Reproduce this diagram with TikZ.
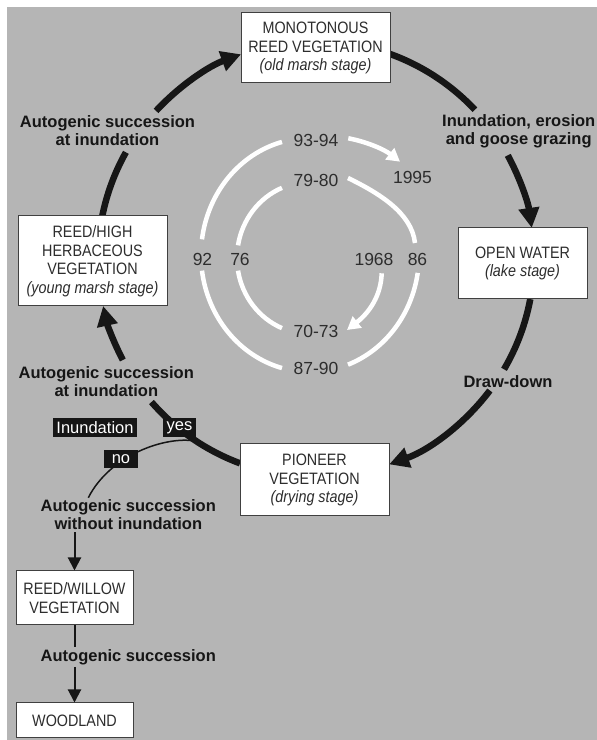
\documentclass[tikz,border=0pt]{standalone}
\usepackage{fontspec}
\setmainfont{Liberation Sans}
\newfontfamily\condfont{Liberation Sans}[FakeStretch=0.87]
\usetikzlibrary{arrows.meta,calc}
\definecolor{bggray}{RGB}{181,181,181}
\definecolor{ink}{RGB}{22,22,22}
\definecolor{boxtext}{RGB}{45,45,45}
\begin{document}
\begin{tikzpicture}[x=1pt,y=1pt,
 stagebox/.style={draw=black!75, line width=1pt, fill=white, align=center, inner sep=0pt, text=boxtext, font=\condfont\fontsize{16.5}{18.5}\selectfont},
 blabel/.style={align=center, font=\bfseries\fontsize{16.5}{18}\selectfont, text=ink, inner sep=2pt},
 tag/.style={fill=ink, text=white, inner sep=0pt, font=\fontsize{16.5}{18}\selectfont},
 yr/.style={font=\fontsize{17.5}{19}\selectfont, text=boxtext, inner sep=1pt},
 cycplain/.style={line width=6.5pt, draw=ink},
 cyc/.style={cycplain, -{Triangle[length=20pt,width=20pt]}},
 wline/.style={line width=4.5pt, draw=white},
 warrow/.style={wline, -{Triangle[length=13pt,width=14pt]}},
 thinline/.style={line width=2pt, draw=ink},
 thinarrow/.style={thinline, -{Triangle[length=13pt,width=13pt]}},
]
\useasboundingbox (0,0) rectangle (597,740);
\fill[bggray] (7,0) rectangle (597,733);

% main cycle (thick black arcs)
\coordinate (C) at (316,481);
\draw[cycplain] ($(C)+(70.3:218)$) arc[start angle=70.3,end angle=43.2,radius=218];
\draw[cyc] ($(C)+(28.4:218)$) arc[start angle=28.4,end angle=8.2,radius=218];
\draw[cycplain] ($(C)+(-10.6:218)$) arc[start angle=-10.6,end angle=-30.4,radius=218];
\draw[cyc] ($(C)+(-37.1:218)$) arc[start angle=-37.1,end angle=-70.4,radius=218];
\draw[cycplain] ($(C)+(-110.4:218)$) arc[start angle=-110.4,end angle=-139,radius=218];
\draw[cyc] ($(C)+(-152.4:218)$) arc[start angle=-152.4,end angle=-167.55,radius=218];
\draw[cycplain] ($(C)+(168.6:218)$) arc[start angle=168.6,end angle=150.7,radius=218];
\draw[cyc] ($(C)+(137.2:218)$) arc[start angle=137.2,end angle=110.1,radius=218];

% white spiral of years
\coordinate (O) at (310,485);
\coordinate (I) at (310,482);
\draw[warrow] (381.7,466.7) .. controls (381,445) and (370,428) .. (347,410);
\draw[wline] ($(I)+(-112.6:73 and 76)$) arc[start angle=-112.6,end angle=-170.4,x radius=73,y radius=76];
\draw[wline] ($(I)+(170.4:73 and 76)$) arc[start angle=170.4,end angle=112.6,x radius=73,y radius=76];
\draw[wline] (348,562) .. controls (379.5,546.6) and (411.6,527) .. (415,497);
\draw[wline] ($(O)+(-8.8:109 and 117)$) arc[start angle=-8.8,end angle=-69.6,x radius=109,y radius=117];
\draw[wline] ($(O)+(-104.9:109 and 117)$) arc[start angle=-104.9,end angle=-172.3,x radius=109,y radius=117];
\draw[wline] ($(O)+(172.3:109 and 117)$) arc[start angle=172.3,end angle=104.9,x radius=109,y radius=117];
\draw[warrow] (348.3,601.7) .. controls (368,598) and (385,590) .. (400,578.3);

% year labels
\node[yr] (y9394) at (316,600) {93-94};
\node[yr] (y7980) at (316,560) {79-80};
\node[yr] (y1995) at (412.5,562.5) {1995};
\node[yr] (y92) at (202.5,481) {92};
\node[yr] (y76) at (240,481) {76};
\node[yr] (y1968) at (374,481) {1968};
\node[yr] (y86) at (417.5,481) {86};
\node[yr] (y7073) at (316,409) {70-73};
\node[yr] (y8790) at (316,372) {87-90};

% stage boxes
\node[stagebox, minimum width=149, minimum height=70] (top) at (315.5,692) {MONOTONOUS\\REED VEGETATION\\\itshape (old marsh stage)};
\node[stagebox, minimum width=129, minimum height=71] (ow) at (522.5,476.5) {OPEN WATER\\\itshape (lake stage)};
\node[stagebox, minimum width=149, minimum height=90] (rh) at (92.5,479) {REED/HIGH\\HERBACEOUS\\VEGETATION\\\itshape (young marsh stage)};
\node[stagebox, minimum width=149, minimum height=72] (pio) at (314.5,260) {PIONEER\\VEGETATION\\\itshape (drying stage)};
\node[stagebox, minimum width=117, minimum height=54] (rw) at (74.5,142) {REED/WILLOW\\VEGETATION};
\node[stagebox, minimum width=117, minimum height=35] (wood) at (74.5,19.5) {WOODLAND};

% labels
\node[blabel] (labUL) at (107.5,609) {Autogenic succession\\at inundation};
\node[blabel] (labUR) at (518.7,608.5) {Inundation, erosion\\and goose grazing};
\node[blabel] (labDD) at (508,358.5) {Draw-down};
\node[blabel] (labLL) at (106.3,358) {Autogenic succession\\at inundation};
\node[blabel] (labWO) at (128.3,225) {Autogenic succession\\without inundation};
\node[blabel] (labAS) at (128.3,83) {Autogenic succession};

% branch without inundation
\draw[line width=1.5pt, draw=ink] (195,299) .. controls (165,304) and (110,285) .. ([xshift=-40pt]labWO.north);
\node[tag, minimum width=84, minimum height=19] (inund) at (95,312.5) {Inundation};
\node[tag, minimum width=33, minimum height=19] (yes) at (179.5,312.5) {yes};
\node[tag, minimum width=34, minimum height=18] (no) at (121,281) {no};

\draw[thinarrow] (rw.north |- labWO.south) -- (rw.north);
\draw[thinline] (rw.south) -- (rw.south |- labAS.north);
\draw[thinarrow] (wood.north |- labAS.south) -- (wood.north);
\end{tikzpicture}
\end{document}
